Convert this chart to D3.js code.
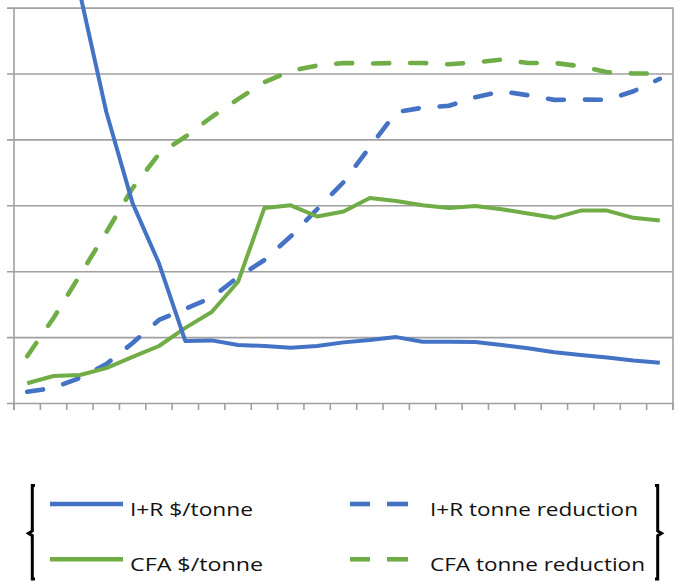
<!DOCTYPE html>
<html>
<head>
<meta charset="utf-8">
<script src="https://cdn.jsdelivr.net/npm/d3@7/dist/d3.min.js"></script>
<style>
  html, body { margin: 0; padding: 0; background: #ffffff; }
  svg { display: block; }
</style>
</head>
<body>
<div id="chart"></div>
<script>
// ---- data (the axis carries no labels) ----
const categories = d3.range(1, 26).map(String);
const yTicks = [0, 1, 2, 3, 4, 5, 6];

const irCost      = [9.5, 7.8, 6.22, 4.42, 3.03, 2.12, 0.94, 0.95, 0.88, 0.865, 0.84, 0.865, 0.92, 0.955, 1.0, 0.93, 0.93, 0.925, 0.88, 0.83, 0.77, 0.73, 0.69, 0.645, 0.61];
const cfaCost     = [0.30, 0.41, 0.425, 0.53, 0.70, 0.865, 1.14, 1.38, 1.84, 2.96, 3.00, 2.83, 2.905, 3.11, 3.065, 3.0, 2.96, 2.99, 2.94, 2.875, 2.81, 2.92, 2.92, 2.81, 2.77];
const irReduction = [0.17, 0.23, 0.38, 0.59, 0.91, 1.26, 1.43, 1.60, 1.91, 2.17, 2.53, 2.94, 3.35, 3.885, 4.415, 4.48, 4.51, 4.64, 4.73, 4.67, 4.60, 4.605, 4.60, 4.73, 4.92];
const cfaReduction= [0.71, 1.29, 1.94, 2.59, 3.26, 3.78, 4.04, 4.34, 4.61, 4.87, 5.04, 5.12, 5.16, 5.15, 5.16, 5.16, 5.14, 5.17, 5.21, 5.16, 5.16, 5.11, 5.02, 5.00, 5.00];

const seriesNames = ["I+R $/tonne", "CFA $/tonne", "I+R tonne reduction", "CFA tonne reduction"];
const seriesColors = ["#4472C4", "#70AD47", "#4472C4", "#70AD47"];
const seriesDashed = [false, false, true, true];
const seriesValues = [irCost, cfaCost, irReduction, cfaReduction];

// ---- layout ----
const W = 675, H = 582;
const svg = d3.select("#chart").append("svg").attr("width", W).attr("height", H);

const x = d3.scaleBand().domain(categories).range([14, 673]).padding(0);
const y = d3.scaleLinear().domain([0, 6]).range([403, 7.6]);
const gridColor = "#a0a0a0";

// horizontal gridlines via axis
const yAxis = d3.axisLeft(y).tickValues(yTicks).tickSize(-(673 - 14) - 7).tickFormat("");
const gy = svg.append("g").attr("transform", "translate(7,0)").call(yAxis);
gy.select(".domain").remove();
gy.selectAll(".tick line").attr("stroke", gridColor).attr("stroke-width", 1.6)
  .attr("x1", 0).attr("x2", 673 - 7);

// left and right vertical lines
svg.append("line").attr("x1", 14).attr("x2", 14).attr("y1", y(6)).attr("y2", 410)
  .attr("stroke", gridColor).attr("stroke-width", 1.6);
svg.append("line").attr("x1", 673).attr("x2", 673).attr("y1", y(6)).attr("y2", 410)
  .attr("stroke", gridColor).attr("stroke-width", 1.6);

// x axis tick marks at category boundaries
const boundaries = categories.map(c => x(c)).concat([x.range()[1]]);
svg.append("g").selectAll("line").data(boundaries).join("line")
  .attr("x1", d => d).attr("x2", d => d).attr("y1", y(0)).attr("y2", 410)
  .attr("stroke", gridColor).attr("stroke-width", 1.6);

// series lines
const line = d3.line()
  .defined(v => v != null)
  .x((v, i) => x(categories[i]) + x.bandwidth() / 2)
  .y(v => y(v));

svg.append("clipPath").attr("id", "clip").append("rect")
  .attr("x", 0).attr("y", 0).attr("width", W).attr("height", 420);

const gLines = svg.append("g").attr("clip-path", "url(#clip)");
[3, 2, 1, 0].forEach(k => {
  gLines.append("path")
    .attr("d", line(seriesValues[k]))
    .attr("fill", "none")
    .attr("stroke", seriesColors[k])
    .attr("stroke-width", seriesDashed[k] ? 4.6 : 4)
    .attr("stroke-linejoin", "round")
    .attr("stroke-linecap", seriesDashed[k] ? "round" : "butt")
    .attr("stroke-dasharray", seriesDashed[k] ? "16,21" : null);
});

// ---- legend ----
const leg = svg.append("g");
// brackets
leg.append("path")
  .attr("d", "M35,485.5 L32.3,485.5 L32.3,531 L28.5,533.3 L32.3,535.6 L32.3,579 L35,579")
  .attr("fill", "none").attr("stroke", "#000").attr("stroke-width", 3);
leg.append("path")
  .attr("d", "M655,485.5 L657.7,485.5 L657.7,531 L661.5,533.3 L657.7,535.6 L657.7,579 L655,579")
  .attr("fill", "none").attr("stroke", "#000").attr("stroke-width", 3);

const legendItems = [
  { k: 0, lx: 50, ly: 504, tx: 130, ty: 516, w: 123 },
  { k: 1, lx: 50, ly: 559.3, tx: 130, ty: 571, w: 133 },
  { k: 2, lx: 350, ly: 504, tx: 430, ty: 516, w: 208 },
  { k: 3, lx: 350, ly: 559.3, tx: 430, ty: 571, w: 215 }
];
legendItems.forEach(it => {
  const k = it.k;
  if (seriesDashed[k]) {
    [[it.lx, it.lx + 20], [it.lx + 37, it.lx + 58]].forEach(([a, b]) => {
      leg.append("line").attr("x1", a).attr("x2", b).attr("y1", it.ly).attr("y2", it.ly)
        .attr("stroke", seriesColors[k]).attr("stroke-width", 4.6);
    });
  } else {
    leg.append("line").attr("x1", it.lx).attr("x2", it.lx + 73).attr("y1", it.ly).attr("y2", it.ly)
      .attr("stroke", seriesColors[k]).attr("stroke-width", 4.6);
  }
  leg.append("text").attr("x", it.tx).attr("y", it.ty)
    .attr("font-family", "'Open Sans', Lato, sans-serif")
    .attr("font-size", 19)
    .attr("fill", "#111")
    .attr("textLength", it.w)
    .attr("lengthAdjust", "spacingAndGlyphs")
    .text(seriesNames[k]);
});
</script>
</body>
</html>
